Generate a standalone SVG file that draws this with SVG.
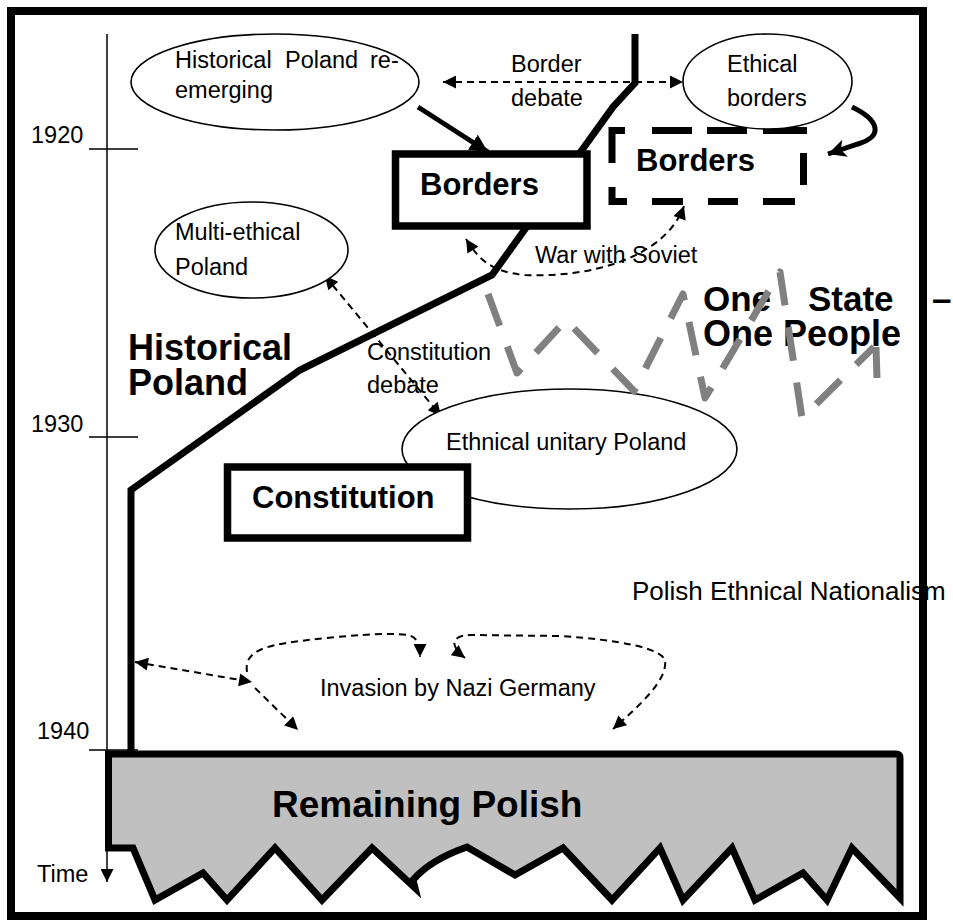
<svg xmlns="http://www.w3.org/2000/svg" width="953" height="921" viewBox="0 0 953 921">
  <style>
    text { font-family: "Liberation Sans", Arial, sans-serif; fill: #000; }
    .t { font-size: 23.5px; }
    .b { font-size: 31px; font-weight: bold; }
    .big { font-size: 35px; font-weight: bold; }
    .oval { fill: #fff; stroke: #000; stroke-width: 1.6; }
    .box { fill: #fff; stroke: #000; stroke-width: 7.5; }
    .dash { fill: none; stroke: #000; stroke-width: 2; stroke-dasharray: 7 5; }
    .thin { fill: none; stroke: #000; stroke-width: 1.5; }
    .heavy { fill: none; stroke: #000; stroke-width: 7; stroke-linejoin: miter; }
    .gray { fill: none; stroke: #808080; stroke-width: 7; stroke-dasharray: 34 22; stroke-linejoin: round; }
    .gray-end { fill: none; stroke: #808080; stroke-width: 7; }
  </style>
  <defs>
    <marker id="tip" viewBox="0 0 10 10" refX="10" refY="5" markerWidth="16" markerHeight="13" markerUnits="userSpaceOnUse" orient="auto-start-reverse">
      <path d="M0,0 L10,5 L0,10 z" fill="#000" stroke="none"/>
    </marker>
    <marker id="tipSmall" viewBox="0 0 10 10" refX="10" refY="5" markerWidth="13" markerHeight="13" markerUnits="userSpaceOnUse" orient="auto">
      <path d="M0,0 L10,5 L0,10 z" fill="#000" stroke="none"/>
    </marker>
    <marker id="bold" viewBox="0 0 10 10" refX="10" refY="5" markerWidth="18" markerHeight="19" markerUnits="userSpaceOnUse" orient="auto">
      <path d="M0,0 L10,5 L0,10 z" fill="#000" stroke="none"/>
    </marker>
    <marker id="stealth" viewBox="0 0 10 10" refX="10" refY="5" markerWidth="26" markerHeight="18" markerUnits="userSpaceOnUse" orient="auto">
      <path d="M0,0 L10,5 L0,10 L2.5,5 z" fill="#000" stroke="none"/>
    </marker>
  </defs>

  <rect width="953" height="921" fill="#fff"/>

  <!-- time axis -->
  <g id="timeline">
    <path class="thin" d="M107,34 L107,882" marker-end="url(#tipSmall)"/>
    <path class="thin" d="M89,149 H138 M89,437 H138 M89,750 H138"/>
    <text class="t" x="31" y="143">1920</text>
    <text class="t" x="31" y="432">1930</text>
    <text class="t" x="37" y="739">1940</text>
    <text class="t" x="37" y="882">Time</text>
  </g>

  <!-- connectors -->
  <g id="connectors">
    <!-- course of historical Poland -->
    <path class="heavy" d="M635,34 L635,83 L613,107 L492,275 L300,370 L131,490 L131,752"/>
    <!-- re-emerging into borders -->
    <path fill="none" stroke="#000" stroke-width="5" d="M418,107 L488,152" marker-end="url(#bold)"/>
    <!-- ethical borders into dashed borders -->
    <path fill="none" stroke="#000" stroke-width="5" d="M852,107 C879,120 884,136 858,144 L828,154" marker-end="url(#stealth)"/>
    <!-- border debate -->
    <path class="dash" d="M443,82 L683,82" marker-start="url(#tip)" marker-end="url(#tip)"/>
    <!-- war with soviet -->
    <path class="dash" d="M466,239 C478,258 490,272 525,275 C590,278 665,258 684,206" marker-start="url(#tip)" marker-end="url(#tip)"/>
    <!-- constitution debate -->
    <path class="dash" d="M325,276 L441,416" marker-start="url(#tip)" marker-end="url(#tip)"/>
    <!-- invasion -->
    <path class="dash" d="M135,662 L252,682" marker-start="url(#tip)" marker-end="url(#tip)"/>
    <path class="dash" d="M247,672 C244,652 262,646 300,641 C340,636 390,632 408,635 C416,637 420,642 420,657" marker-end="url(#tip)"/>
    <path class="dash" d="M255,688 L298,730" marker-end="url(#tip)"/>
    <path class="dash" d="M465,658 C452,648 448,636 470,635 L560,636 C620,640 660,648 665,660 C668,680 640,705 613,729" marker-start="url(#tip)" marker-end="url(#tip)"/>

    <text class="t" x="511" y="72">Border</text>
    <text class="t" x="511" y="106">debate</text>
    <text class="t" x="535" y="263">War with Soviet</text>
    <text class="t" x="367" y="360">Constitution</text>
    <text class="t" x="367" y="393">debate</text>
    <text class="t" x="320" y="696">Invasion by Nazi Germany</text>
  </g>

  <g id="poland-reemerging">
    <ellipse class="oval" cx="275" cy="82" rx="144" ry="48"/>
    <text class="t" x="175" y="68">Historical</text>
    <text class="t" x="285" y="68">Poland</text>
    <text class="t" x="370" y="68">re-</text>
    <text class="t" x="175" y="98">emerging</text>
  </g>

  <g id="borders">
    <rect class="box" x="395.5" y="154" width="191.5" height="72"/>
    <text class="b" x="420" y="195">Borders</text>
  </g>

  <g id="borders-ethical">
    <path fill="none" stroke="#000" stroke-width="7" d="M612,163 V130.5 H625 M652,130.5 H692 M707,130.5 H747 M763,130.5 H803.5 V134 M803.5,153 V185 M795,201.5 H763 M738,201.5 H708 M683,201.5 H652 M627,201.5 H612 V187"/>
    <text class="b" x="636" y="171">Borders</text>
  </g>

  <g id="ethical-borders">
    <ellipse class="oval" cx="767.5" cy="81.5" rx="84.5" ry="47.5"/>
    <text class="t" x="727" y="72">Ethical</text>
    <text class="t" x="727" y="106">borders</text>
  </g>

  <g id="multi-ethical">
    <ellipse class="oval" cx="251.5" cy="250" rx="96.5" ry="48"/>
    <text class="t" x="175" y="240">Multi-ethical</text>
    <text class="t" x="175" y="275">Poland</text>
  </g>

  <g id="historical-poland">
    <text class="big" x="128" y="360" style="font-size:36px">Historical</text>
    <text class="big" x="128" y="395" style="font-size:36px">Poland</text>
  </g>

  <g id="ethnical-unitary">
    <ellipse class="oval" cx="569.5" cy="449" rx="167.5" ry="60"/>
    <text class="t" x="446" y="450">Ethnical unitary Poland</text>
  </g>

  <g id="constitution">
    <rect class="box" x="227.5" y="467" width="240" height="71"/>
    <text class="b" x="252" y="508">Constitution</text>
  </g>

  <g id="one-state">
    <text class="big" x="703" y="311">One</text>
    <text class="big" x="808" y="311">State</text>
    <text class="big" x="932" y="311">–</text>
    <text class="big" x="703" y="346" style="font-size:36px">One People</text>
  </g>

  <!-- grey dashed zigzag -->
  <path class="gray" d="M488,294 L517,373 L566,320 L634,391 L683,294 L705,398 L780,272 L802,418 L874,347"/>
  <path class="gray-end" d="M876,347 L877,378"/>

  <g id="nationalism">
    <text x="632" y="600" style="font-size:26px">Polish Ethnical Nationalism</text>
  </g>

  <g id="remaining-polish">
    <path fill="#c0c0c0" stroke="#000" stroke-width="7" stroke-linejoin="miter" d="M108.5,754 H896 Q900,754 900,758 V898 L852,848 L827,900 L803,873 L755,900 L732,848 L683,900 L660,848 L612,900 L563,848 L515,875 L467,847 Q430,860 413,880 L415,888 L372,848 L322,900 L275,848 L227,900 L203,873 L155,900 L133,848 H108.5 Z"/>
    <text x="272" y="817" style="font-size:37px;font-weight:bold">Remaining Polish</text>
  </g>

  <!-- outer frame -->
  <rect x="11" y="11" width="912" height="905" fill="none" stroke="#000" stroke-width="8"/>
</svg>
